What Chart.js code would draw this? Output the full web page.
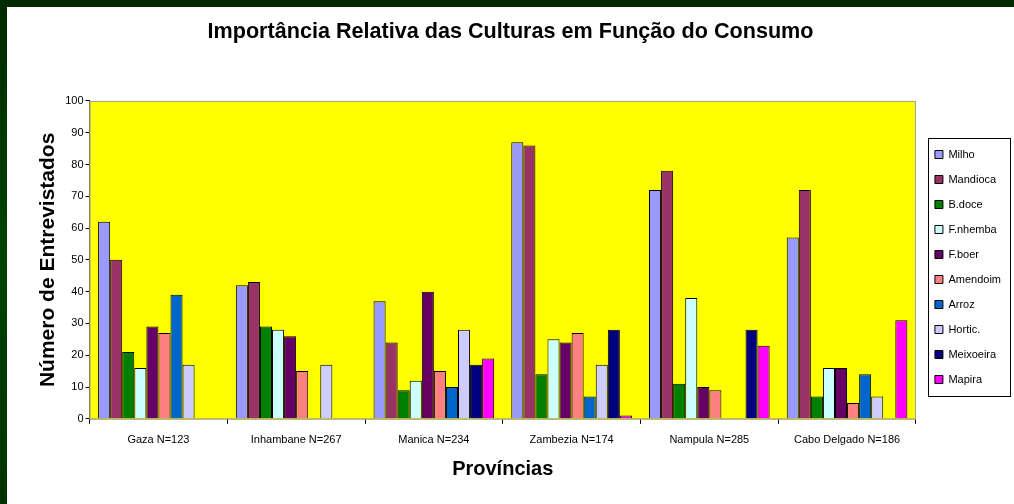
<!DOCTYPE html>
<html>
<head>
<meta charset="utf-8">
<script src="https://cdn.jsdelivr.net/npm/chart.js@4"></script>
<style>
  html, body { margin: 0; padding: 0; }
  body {
    width: 1014px; height: 504px; overflow: hidden;
    background: linear-gradient(180deg, #002a00 0%, #004400 50%, #003300 100%);
  }
  #wrap {
    position: absolute; left: 7px; top: 7px;
    width: 1007px; height: 497px; background: #ffffff;
  }
</style>
</head>
<body>
<div id="wrap"><canvas id="myChart"></canvas></div>
<script>
// provincias e culturas
const provincias = ['Gaza N=123', 'Inhambane N=267', 'Manica N=234', 'Zambezia N=174', 'Nampula N=285', 'Cabo Delgado N=186'];
const culturas = ['Milho', 'Mandioca', 'B.doce', 'F.nhemba', 'F.boer', 'Amendoim', 'Arroz', 'Hortic.', 'Meixoeira', 'Mapira'];
const cores = ['#9999FF', '#993366', '#008000', '#CCFFFF', '#660066', '#FF8080', '#0066CC', '#CCCCFF', '#000080', '#FF00FF'];

// valores por cultura (uma posição por provincia)
const milho     = [62, 42, 37, 87, 72, 57];
const mandioca  = [50, 43, 24, 86, 78, 72];
const bdoce     = [21, 29, 9, 14, 11, 7];
const fnhemba   = [16, 28, 12, 25, 38, 16];
const fboer     = [29, 26, 40, 24, 10, 16];
const amendoim  = [27, 15, 15, 27, 9, 5];
const arroz     = [39, null, 10, 7, null, 14];
const hortic    = [17, 17, 28, 17, null, 7];
const meixoeira = [null, null, 17, 28, 28, null];
const mapira    = [null, null, 19, 1, 23, 31];

const yTicks = [0, 10, 20, 30, 40, 50, 60, 70, 80, 90, 100];

const valores = [milho, mandioca, bdoce, fnhemba, fboer, amendoim, arroz, hortic, meixoeira, mapira];

const fonte = 'Arial, "Liberation Sans", sans-serif';

const fundo = {
    id: 'fundo',
    afterLayout(chart) {
        // empurra a legenda um pouco para a direita
        const l = chart.legend, dx = 5;
        l.left += dx; l.right += dx;
    },
    beforeDatasetsDraw(chart) {
        const a = chart.chartArea, c = chart.ctx;
        c.save();
        c.fillStyle = '#FFFF00';
        c.fillRect(a.left, a.top, a.right - a.left, a.bottom - a.top);
        c.strokeStyle = '#a0a0a0';
        c.lineWidth = 1;
        c.strokeRect(a.left + 0.5, a.top + 0.5, a.right - a.left - 1, a.bottom - a.top);
        c.restore();
    },
    afterDraw(chart) {
        // caixa da legenda, só à volta dos itens
        const l = chart.legend;
        const hb = l.legendHitBoxes;
        if (!hb || !hb.length) return;
        const c = chart.ctx;
        const x = Math.round(l.left) + 7;
        const top = Math.round(hb[0].top) - 11;
        const last = hb[hb.length - 1];
        const bottom = Math.round(last.top + last.height) + 11;
        c.save();
        c.strokeStyle = '#000';
        c.lineWidth = 1;
        c.strokeRect(x + 0.5, top + 0.5, 82, bottom - top);
        c.restore();
    }
};

const ctx = document.getElementById('myChart');

new Chart(ctx, {
    type: 'bar',
    data: {
        labels: provincias,
        datasets: culturas.map(function (nome, i) {
            return {
                label: nome,
                data: valores[i],
                backgroundColor: cores[i],
                borderColor: '#000000',
                borderWidth: 1,
                borderSkipped: 'bottom',
                categoryPercentage: 0.876,
                barPercentage: 1.0
            };
        })
    },
    plugins: [fundo],
    options: {
        responsive: true,
        maintainAspectRatio: false,
        animation: false,
        layout: { padding: { left: 8, right: 8, top: 0, bottom: 23 } },
        plugins: {
            title: {
                display: true,
                text: 'Importância Relativa das Culturas em Função do Consumo',
                color: '#000',
                font: { size: 21.6, weight: 'bold', family: fonte },
                padding: { top: 12, bottom: 56 }
            },
            legend: {
                position: 'right',
                title: { display: true, text: ' ', padding: 17, font: { size: 10 } },
                labels: {
                    color: '#000',
                    boxWidth: 8,
                    boxHeight: 8,
                    padding: 14,
                    font: { size: 11, family: fonte }
                }
            },
            tooltip: { enabled: false }
        },
        scales: {
            x: {
                offset: true,
                grid: { offset: true, drawOnChartArea: false, color: '#000', tickLength: 5 },
                border: { color: '#000' },
                ticks: { color: '#000', font: { size: 11, family: fonte }, padding: 10 },
                title: {
                    display: true, text: 'Províncias', color: '#000',
                    font: { size: 20, weight: 'bold', family: fonte },
                    padding: { top: 0, bottom: 0 }
                }
            },
            y: {
                min: 0,
                max: 100,
                afterBuildTicks(axis) { axis.ticks = yTicks.map(function (v) { return { value: v }; }); },
                grid: { drawOnChartArea: false, color: '#000', tickLength: 4 },
                border: { color: '#000' },
                ticks: { color: '#000', font: { size: 11, family: fonte }, padding: 2 },
                title: {
                    display: true, text: 'Número de Entrevistados', color: '#000',
                    font: { size: 21, weight: 'bold', family: fonte },
                    padding: { top: 21, bottom: 2 }
                }
            }
        }
    }
});
</script>
</body>
</html>
